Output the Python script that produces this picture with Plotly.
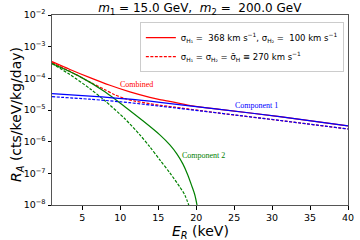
import plotly.graph_objects as go

# ---- data ----
comp1_solid_x = [1, 6.0, 11.26, 15.21, 23.1, 31.0, 40.0]
comp1_solid_y = [3.27e-5, 2.75e-5, 2.19e-5, 1.74e-5, 1.05e-5, 6.17e-6, 3.16e-6]
comp1_dash_x = [1, 6.0, 11.26, 15.21, 23.1, 31.0, 40.0]
comp1_dash_y = [2.63e-5, 2.19e-5, 1.70e-5, 1.32e-5, 7.94e-6, 4.68e-6, 2.51e-6]

comb_solid_x = [1, 3.37, 6.0, 8.63, 11.26, 13.89, 15.21, 17.18, 19.5, 23.1, 31.0, 40.0]
comb_solid_y = [3.39e-4, 1.91e-4, 1.05e-4, 6.03e-5, 3.72e-5, 2.51e-5, 2.14e-5, 1.74e-5, 1.35e-5, 1.05e-5, 6.17e-6, 3.16e-6]
comb_dash_x = [1, 3.37, 6.0, 7.97, 9.29, 10.6, 11.92, 13.89, 15.21, 17.18, 23.1, 31.0, 40.0]
comb_dash_y = [3.16e-4, 1.66e-4, 7.59e-5, 4.37e-5, 3.02e-5, 2.29e-5, 1.91e-5, 1.58e-5, 1.41e-5, 1.23e-5, 7.94e-6, 4.68e-6, 2.51e-6]

comp2_solid_x = [1, 4.68, 7.97, 10.6, 12.97, 15.21, 16.53, 17.45, 18.24, 18.89, 19.42, 19.82, 20.14]
comp2_solid_y = [2.91e-4, 1.13e-4, 3.78e-5, 1.27e-5, 4.56e-6, 1.64e-6, 7.92e-7, 4.11e-7, 1.99e-7, 8.91e-8, 3.99e-8, 2.07e-8, 9.0e-9]
comp2_dash_x = [1, 3.37, 6.0, 7.97, 10.6, 12.58, 13.89, 15.21, 16.53, 17.84, 18.5, 19.08]
comp2_dash_y = [2.91e-4, 1.31e-4, 4.71e-5, 1.96e-5, 5.28e-6, 1.64e-6, 6.85e-7, 2.66e-7, 1.03e-7, 3.71e-8, 2.07e-8, 9.0e-9]

x_ticks = [5, 10, 15, 20, 25, 30, 35, 40]
y_tick_vals = [1e-8, 1e-7, 1e-6, 1e-5, 1e-4, 1e-3, 1e-2]
y_tick_text = ["10<sup>\u22128</sup>", "10<sup>\u22127</sup>", "10<sup>\u22126</sup>", "10<sup>\u22125</sup>",
               "10<sup>\u22124</sup>", "10<sup>\u22123</sup>", "10<sup>\u22122</sup>"]

legend1 = "\u03c3<sub>H\u2081</sub> =  368 km s<sup>\u22121</sup>, \u03c3<sub>H\u2082</sub> =  100 km s<sup>\u22121</sup>"
legend2 = "\u03c3<sub>H\u2081</sub> = \u03c3<sub>H\u2082</sub> = \u03c3\u0304<sub>H</sub> \u2261 270 km s<sup>\u22121</sup>"

RED, BLUE, GREEN = "#ff0000", "#0000ff", "#008000"
DASH = "3px,1.5px"
LW = 1.2

fig = go.Figure()
fig.add_trace(go.Scatter(x=comb_solid_x, y=comb_solid_y, mode="lines", name=legend1,
                         line=dict(color=RED, width=LW, shape="spline", smoothing=0.8)))
fig.add_trace(go.Scatter(x=comb_dash_x, y=comb_dash_y, mode="lines", name=legend2,
                         line=dict(color=RED, width=LW, dash=DASH, shape="spline", smoothing=0.8)))
fig.add_trace(go.Scatter(x=comp2_solid_x, y=comp2_solid_y, mode="lines", showlegend=False,
                         line=dict(color=GREEN, width=LW, shape="spline", smoothing=0.8)))
fig.add_trace(go.Scatter(x=comp2_dash_x, y=comp2_dash_y, mode="lines", showlegend=False,
                         line=dict(color=GREEN, width=LW, dash=DASH, shape="spline", smoothing=0.8)))
fig.add_trace(go.Scatter(x=comp1_solid_x, y=comp1_solid_y, mode="lines", showlegend=False,
                         line=dict(color=BLUE, width=LW, shape="spline", smoothing=0.8)))
fig.add_trace(go.Scatter(x=comp1_dash_x, y=comp1_dash_y, mode="lines", showlegend=False,
                         line=dict(color=BLUE, width=LW, dash=DASH, shape="spline", smoothing=0.8)))

serif = "Liberation Serif"
fig.add_annotation(x=12.18, y=-4.185, text="Combined", showarrow=False,
                   font=dict(family=serif, size=8, color=RED))
fig.add_annotation(x=27.97, y=-4.85, text="Component 1", showarrow=False,
                   font=dict(family=serif, size=8, color=BLUE))
fig.add_annotation(x=21.0, y=-6.449, text="Component 2", showarrow=False,
                   font=dict(family=serif, size=8, color=GREEN))
fig.add_annotation(xref="paper", yref="paper", x=-0.118, y=0.474, xanchor="center", yanchor="middle",
                   text="<i>R</i><sub><i>A</i></sub> (cts/keV/kg/day)", textangle=-90,
                   showarrow=False, font=dict(family="DejaVu Sans", size=14, color="black"))
fig.add_annotation(xref="paper", yref="paper", x=0.5, y=-0.14, xanchor="center", yanchor="middle",
                   text="<i>E</i><sub><i>R</i></sub> (keV)",
                   showarrow=False, font=dict(family="DejaVu Sans", size=14, color="black"))

fig.update_layout(
    width=360, height=240,
    margin=dict(l=52, r=12, t=15, b=35, autoexpand=False),
    paper_bgcolor="white", plot_bgcolor="white",
    font=dict(family="DejaVu Sans", color="black"),
    title=dict(text="<i>m</i><sub>1</sub> = 15.0 GeV,  <i>m</i><sub>2</sub> =  200.0 GeV",
               x=0.555, xanchor="center", y=0.985, yanchor="top",
               font=dict(family="DejaVu Sans", size=12, color="black")),
    legend=dict(x=0.986, y=0.963, xanchor="right", yanchor="top",
                bgcolor="rgba(255,255,255,0.9)", bordercolor="#cccccc", borderwidth=1,
                font=dict(family="DejaVu Sans", size=8.5, color="black"),
                itemwidth=30, tracegroupgap=0),
    xaxis=dict(range=[1, 40], tickvals=x_ticks, ticks="outside", ticklen=3.5,
               tickcolor="black", tickfont=dict(size=9.5), showgrid=False, zeroline=False,
               showline=True, linecolor="#555555", linewidth=1, mirror=True, automargin=False),
    yaxis=dict(type="log", range=[-8, -2], tickvals=y_tick_vals, ticktext=y_tick_text,
               ticks="outside", ticklen=3.5, tickcolor="black", tickfont=dict(size=9.5),
               showgrid=False, zeroline=False, showline=True, linecolor="#555555",
               linewidth=1, mirror=True, automargin=False),
)

fig.write_html("out.html", config={"displayModeBar": False},
               post_script="document.body.style.margin='0px';")
